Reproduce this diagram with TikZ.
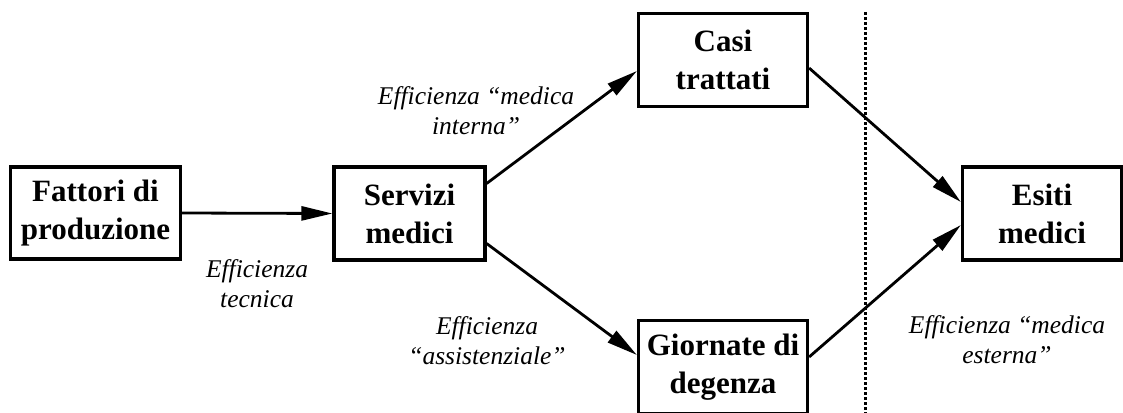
\documentclass[tikz,border=0pt]{standalone}
\usepackage{fontspec}
\setmainfont{Liberation Serif}
\usetikzlibrary{arrows.meta}
\begin{document}
\begin{tikzpicture}[x=1pt,y=-1pt,
  box/.style={draw, line width=3.2pt, align=center, inner sep=0pt,
    font=\bfseries\fontsize{31}{38}\selectfont},
  lab/.style={align=center, inner sep=0pt, font=\itshape\fontsize{25.5}{30}\selectfont},
  conn/.style={line width=2.8pt, -{Triangle[length=31pt,width=14pt]}},
  divider/.style={line width=3pt, dash pattern=on 2.8pt off 2.2pt}]
\useasboundingbox (0,0) rectangle (1123,412);
\node[box, minimum width=170pt, minimum height=92pt] (fat) at (95.5,213) {Fattori di\\produzione};
\node[box, minimum width=151pt, minimum height=93pt] (serv) at (409.5,213.5) {Servizi\\medici};
\node[box, minimum width=169pt, minimum height=93pt] (casi) at (723,60) {Casi\\trattati};
\node[box, minimum width=169pt, minimum height=93pt] (gior) at (723,367) {Giornate di\\degenza};
\node[box, minimum width=159pt, minimum height=93pt] (esiti) at (1042,213.5) {Esiti\\medici};
\coordinate (divtop) at (865,12);
\coordinate (divbot) at (865,414);
\draw[divider] (divtop) -- (divbot);
\draw[conn] (fat.east) -- (serv.west);
\draw[conn] ([yshift=30pt]serv.east) -- ([yshift=-11pt]casi.west);
\draw[conn] ([yshift=-30pt]serv.east) -- ([yshift=12pt]gior.west);
\draw[conn] ([yshift=-8pt]casi.east) -- ([yshift=11.5pt]esiti.west);
\draw[conn] ([yshift=10pt]gior.east) -- ([yshift=-11.5pt]esiti.west);
\node[lab] (l1) at (257,284) {Efficienza\\tecnica};
\node[lab] (l2) at (476,111) {Efficienza “medica\\interna”};
\node[lab] (l3) at (487,341) {Efficienza\\“assistenziale”};
\node[lab] (l4) at (1007,340) {Efficienza “medica\\esterna”};
\end{tikzpicture}
\end{document}
